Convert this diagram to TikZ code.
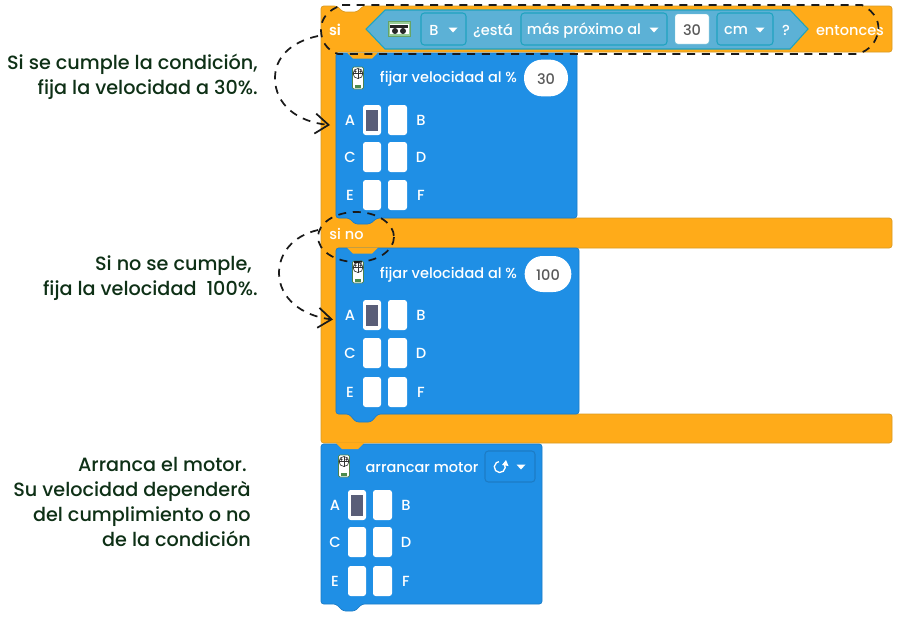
\documentclass[tikz,border=0pt]{standalone}
\usepackage{fontspec}
\setmainfont{Poppins Medium}[BoldFont={Poppins SemiBold}]
\usetikzlibrary{arrows.meta,calc}
\definecolor{orangeb}{HTML}{FFAB19}
\definecolor{orangeline}{HTML}{D99A24}
\definecolor{blueb}{HTML}{1F8FE5}
\definecolor{bluedark}{HTML}{1C7CC6}
\definecolor{skyb}{HTML}{5CB1D6}
\definecolor{skyline}{HTML}{1FA3BF}
\definecolor{darkport}{HTML}{5A5E78}
\definecolor{notegreen}{HTML}{0E3016}
\definecolor{dashk}{HTML}{1A1A1A}
\tikzset{
  note/.style={font=\fontsize{14.4}{16}\selectfont,text=notegreen,anchor=base east,inner sep=0pt},
  blocktext/.style={font=\fontsize{10.9}{12}\selectfont,text=white,inner sep=0pt,yshift=-0.7pt},
  portlabel/.style={font=\fontsize{11}{13}\selectfont,text=white,inner sep=0pt},
  portbox/.style={fill=white,rounded corners=2pt},
  pill/.style={fill=white,inner sep=0pt},
  ddown/.style={fill=skyb,draw=skyline,line width=0.8pt,rounded corners=2.5pt},
  ddownb/.style={fill=blueb,draw=bluedark,line width=0.8pt,rounded corners=2.5pt},
  dashline/.style={draw=dashk,line width=1.3pt,dash pattern=on 6pt off 5pt},
  bar/.style={fill=orangeb,draw=orangeline,line width=0.5pt},
  bluefill/.style={fill=blueb,draw=bluedark,line width=0.5pt},
  tri/.style={fill=white},
}
\newcommand{\tabshape}[4]{% x, y, width, style
  \fill[#4] (#1,#2) -- ({#1+6},{#2+6}) -- ({#1+#3-6},{#2+6}) -- ({#1+#3},#2) -- cycle;}
\newcommand{\droptri}[2]{\fill[tri] ({#1-4.5},{#2-2.5}) -- ({#1+4.5},{#2-2.5}) -- (#1,{#2+2.5}) -- cycle;}
\newcommand{\ports}[5]{% prefix, x offset, row1, row2, row3
  \node[portlabel] (#1A) at ({#2+14},#3) {A};
  \node[portlabel] (#1B) at ({#2+85},#3) {B};
  \node[portlabel] (#1C) at ({#2+14},#4) {C};
  \node[portlabel] (#1D) at ({#2+85},#4) {D};
  \node[portlabel] (#1E) at ({#2+14},#5) {E};
  \node[portlabel] (#1F) at ({#2+85},#5) {F};
  \foreach \yy in {#3,#4,#5}{
    \fill[portbox] ({#2+27},{\yy-15}) rectangle ({#2+45},{\yy+15});
    \fill[portbox] ({#2+52},{\yy-15}) rectangle ({#2+71},{\yy+15});
  }
  \fill[darkport] ({#2+30},{#3-10}) rectangle ({#2+42},{#3+11});
}
\newcommand{\motoricon}[2]{% center x, center y
  \fill[white,draw=green!30!black!70,line width=0.5pt,rounded corners=1pt] ({#1-5.5},{#2-11}) rectangle ({#1+5.5},{#2+11});
  \draw[black!80,line width=0.5pt] (#1,{#2-4.5}) circle (5);
  \draw[black!80,line width=0.4pt] ({#1-5},{#2-4.5}) -- ({#1+5},{#2-4.5}) (#1,{#2-9.5}) -- (#1,{#2+0.5});
  \fill[black!80] ({#1-2.6},{#2-6.5}) circle (1.3);
  \fill[black!80] ({#1+2.6},{#2-6.5}) circle (1.3);
  \fill[green!35!black!70] ({#1-3},{#2+7}) rectangle ({#1+3},{#2+10});
}
\begin{document}
\begin{tikzpicture}[x=0.75pt,y=-0.75pt]
\useasboundingbox (0,0) rectangle (904,618);
\fill[white] (0,0) rectangle (904,618);

% orange C block
\path[bar,rounded corners=2pt]
  (321,6) -- (337,6) -- (343,12) -- (357,12) -- (363,6) -- (892,6) -- (892,52)
  -- (336,52) -- (336,218) -- (892,218) -- (892,248) -- (336,248) -- (336,414)
  -- (892,414) -- (892,443) -- (321,443) -- cycle;

% condition hexagon
\path[fill=skyb,draw=skyline,line width=0.8pt]
  (366,29) -- (385,10) -- (790,10) -- (808,29) -- (790,49) -- (385,49) -- cycle;

% blue block 1
\path[bluefill,rounded corners=2pt]
  (336,53) -- (577,53) -- (577,218) -- (377,218) -- (370,224) -- (355,224) -- (349,218) -- (336,218) -- cycle;
\tabshape{347}{52.5}{31}{orangeb}
% blue block 2
\path[bluefill,rounded corners=2pt]
  (336,248) -- (579,248) -- (579,414) -- (378,414) -- (371,422) -- (356,422) -- (349,414) -- (336,414) -- cycle;
\tabshape{347}{247.5}{31}{orangeb}
% blue block 3
\path[bluefill,rounded corners=2pt]
  (321,444) -- (542,444) -- (542,604) -- (362,604) -- (355,611) -- (343,611) -- (336,604) -- (321,604) -- cycle;
\tabshape{336}{443}{28}{orangeb}

% header texts
\node[blocktext,font=\fontsize{10.9}{12}\selectfont\bfseries] (si) at (335,29) {si};
\node[blocktext] (entonces) at (850,29.5) {entonces};
\node[blocktext] (sino) at (346.5,233) {si no};

% sensor icon
\fill[green!35!gray!60,draw=green!40!black!60,line width=0.4pt] (388,21.5) rectangle (410,36.5);
\fill[white] (389.5,24) rectangle (408.5,34);
\fill[black!85] (390,25) rectangle (408,28);
\fill[black!85] (395,31) circle (3);
\fill[black!85] (403,31) circle (3);

% condition fields
\path[ddown] (421,13) rectangle (466,45);
\node[blocktext] (bval) at (434,29.5) {B};
\droptri{453}{30}
\node[blocktext] (esta) at (493,29.5) {¿está};
\path[ddown] (521,13) rectangle (667,45);
\node[blocktext] (masprox) at (584,29.5) {más próximo al};
\droptri{654}{30}
\path[fill=white,draw=skyline!60,line width=0.3pt,rounded corners=2pt] (675,14) rectangle (709,44);
\node[blocktext,text=black!65] (dist) at (692,29.5) {30};
\path[ddown] (717,13) rectangle (773,45);
\node[blocktext] (cm) at (736,29.5) {cm};
\droptri{760}{30}
\node[blocktext] (qm) at (786,29.5) {?};

% block 1 content
\motoricon{358}{78}
\node[blocktext] (fv1) at (448.5,78) {fijar velocidad al \%};
\node[pill,minimum width=33pt,minimum height=27.5pt,rounded corners=13.5pt] (p1) at (546,78) {};
\node[blocktext,text=black!65] at (546,78) {30};
\ports{a}{336}{120}{157}{195}

% block 2 content
\motoricon{358}{272}
\node[blocktext] (fv2) at (448.5,274) {fijar velocidad al \%};
\node[pill,minimum width=35pt,minimum height=27pt,rounded corners=13.5pt] (p2) at (548,274) {};
\node[blocktext,text=black!65] at (548,274) {100};
\ports{b}{336}{315}{353}{392}

% block 3 content
\motoricon{344}{466}
\node[blocktext] (am) at (422,467) {arrancar motor};
\path[ddownb] (485,451) rectangle (535,482);
\draw[white,line width=1pt] (504,463.5) arc (-40:260:5.5);
\fill[white] (506,460) -- (508.5,466) -- (502,465) -- cycle;
\droptri{521}{467}
\ports{c}{321}{505}{542}{581}

% notes
\node[note] (n1) at (258,69.5) {Si se cumple la condición,};
\node[note] (n2) at (258,94.5) {fija la velocidad a 30\%.};
\node[note] (n3) at (252,270) {Si no se cumple,};
\node[note] (n4) at (258,295) {fija la velocidad\ \ 100\%.};
\node[note] (n5) at (247,471) {Arranca el motor.};
\node[note] (n6) at (251,496) {Su velocidad dependerà};
\node[note] (n7) at (251,521) {del cumplimiento o no};
\node[note] (n8) at (251,546) {de la condición};

% dashed highlights
\path[dashline,rounded corners=0pt]
  (342,5) -- (862,5) .. controls (876,12) and (880,24) .. (878,32)
  .. controls (876,42) and (870,50) .. (858,54) -- (338,54)
  .. controls (326,50) and (321,40) .. (321,30)
  .. controls (321,18) and (328,10) .. (342,5);
\draw[dashline] (356,237) ellipse (38 and 25);

% connectors
\coordinate (s1) at (318,36);
\coordinate (t1) at (330,125);
\coordinate (s2) at (318,230);
\coordinate (t2) at (333,319.5);
\draw[dashline,-{Straight Barb[length=10pt,width=15pt,line width=1.3pt]}]
  (s1) .. controls (290,42) and (275,58) .. (275,78) .. controls (275,105) and (298,122) .. (t1);
\draw[dashline,-{Straight Barb[length=10pt,width=15pt,line width=1.3pt]}]
  (s2) .. controls (292,236) and (279,254) .. (279,273) .. controls (279,298) and (302,316) .. (t2);
\end{tikzpicture}
\end{document}
